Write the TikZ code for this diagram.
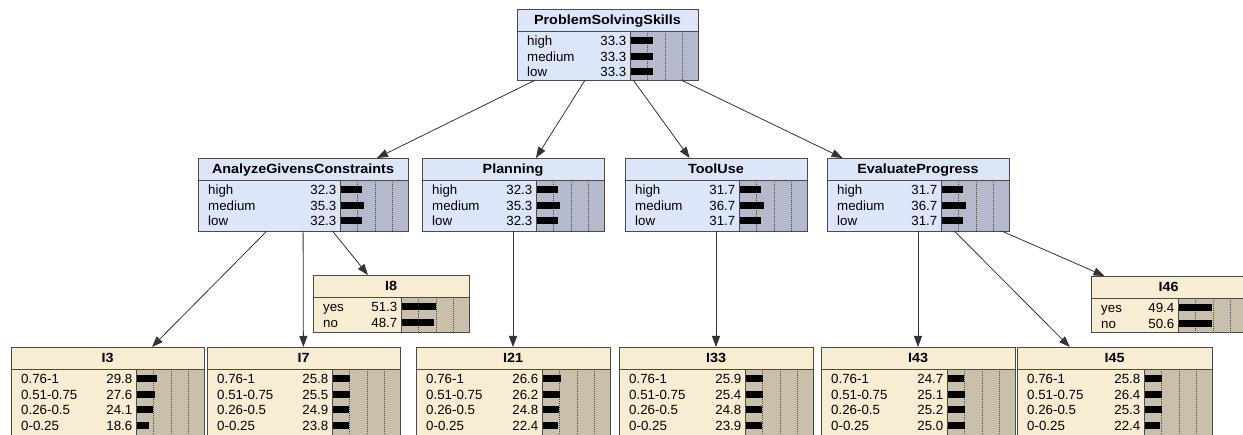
\documentclass[tikz,border=0pt]{standalone}
\usepackage{fontspec}
\setmainfont{Liberation Sans}
\newfontfamily\titlefont[FakeStretch=1.08]{Liberation Sans}
\usetikzlibrary{arrows.meta}

\definecolor{bluebox}{HTML}{DDE5F9}
\definecolor{bluebar}{HTML}{B4BACB}
\definecolor{creambox}{HTML}{F8EDD2}
\definecolor{creambar}{HTML}{C9C0AB}
\definecolor{framecol}{HTML}{4A4A4A}
\definecolor{linkcol}{HTML}{333333}

\tikzset{
  nodeframe/.style={draw=framecol, line width=0.9pt, rectangle, inner sep=0pt, outer sep=0pt, fill=none},
  titletext/.style={inner sep=0pt, font=\titlefont\bfseries\fontsize{13.3}{15}\selectfont},
  rowtext/.style={inner sep=0pt, font=\fontsize{13.3}{15}\selectfont},
  gridline/.style={draw=framecol, line width=0.6pt, dash pattern=on 1pt off 1pt},
  link/.style={draw=linkcol, line width=0.8pt, -{Triangle[length=11pt,width=8pt]}},
}

% belief-bar box: name, left, top, right, bottom, title, colour scheme, rows
\newcommand\beliefbox[8]{%
  \pgfmathsetmacro\nwW{#4-#2}%
  \pgfmathsetmacro\nwH{#5-#3}%
  \pgfmathsetmacro\nwT{#3+22.5}%
  \pgfmathsetmacro\nwB{#4-67.5}%
  \fill[#7box] (#2,#3) rectangle (#4,#5);
  \fill[#7bar] (\nwB,\nwT) rectangle (#4,#5);
  \foreach \d in {17,34.5,52}
    \draw[gridline] (\nwB+\d,\nwT) -- (\nwB+\d,#5);
  \draw[framecol, line width=0.8pt] (\nwB,\nwT) -- (\nwB,#5);
  \draw[framecol, line width=0.8pt] (#2,\nwT) -- (#4,\nwT);
  \node[nodeframe, anchor=north west, minimum width=\nwW pt, minimum height=\nwH pt] (#1) at (#2,#3) {};
  \node[titletext, anchor=base] (#1-title) at ({(#2+#4)/2},#3+16) {#6};
  \foreach \lab/\val [count=\i from 0] in {#8} {
    \pgfmathsetmacro\nwY{\nwT+9.5+15.5*\i}
    \node[rowtext, anchor=base west] (#1-lab-\i) at (#2+10,\nwY+4.6) {\lab};
    \node[rowtext, anchor=base east] (#1-val-\i) at (\nwB-4,\nwY+4.6) {\val};
    \fill[black] (\nwB+0.5,\nwY-3.5) rectangle ++(0.66*\val,7);
  }
}

\begin{document}
\begin{tikzpicture}[x=1pt,y=-1pt]
\useasboundingbox (0,0) rectangle (1243,435);
\clip (0,0) rectangle (1243,435);

% root
\beliefbox{pss}{517}{9}{698}{80}{ProblemSolvingSkills}{blue}{high/33.3,medium/33.3,low/33.3}

% skill nodes
\beliefbox{agc}{198}{158}{408}{231}{AnalyzeGivensConstraints}{blue}{high/32.3,medium/35.3,low/32.3}
\beliefbox{plan}{422}{158}{604}{231}{Planning}{blue}{high/32.3,medium/35.3,low/32.3}
\beliefbox{tool}{625}{158}{807}{231}{ToolUse}{blue}{high/31.7,medium/36.7,low/31.7}
\beliefbox{eval}{827}{158}{1009}{231}{EvaluateProgress}{blue}{high/31.7,medium/36.7,low/31.7}

% binary items
\beliefbox{i8}{313}{275}{469}{332}{I8}{cream}{yes/51.3,no/48.7}
\beliefbox{i46}{1091}{276}{1246}{332}{I46}{cream}{yes/49.4,no/50.6}

% graded items
\beliefbox{i3}{11}{347}{204}{437}{I3}{cream}{0.76-1/29.8,0.51-0.75/27.6,0.26-0.5/24.1,0-0.25/18.6}
\beliefbox{i7}{207}{347}{400}{437}{I7}{cream}{0.76-1/25.8,0.51-0.75/25.5,0.26-0.5/24.9,0-0.25/23.8}
\beliefbox{i21}{416}{347}{610}{437}{I21}{cream}{0.76-1/26.6,0.51-0.75/26.2,0.26-0.5/24.8,0-0.25/22.4}
\beliefbox{i33}{619}{347}{813}{437}{I33}{cream}{0.76-1/25.9,0.51-0.75/25.4,0.26-0.5/24.8,0-0.25/23.9}
\beliefbox{i43}{821}{347}{1015}{437}{I43}{cream}{0.76-1/24.7,0.51-0.75/25.1,0.26-0.5/25.2,0-0.25/25.0}
\beliefbox{i45}{1017}{347}{1212}{437}{I45}{cream}{0.76-1/25.8,0.51-0.75/26.4,0.26-0.5/25.3,0-0.25/22.4}

% dependencies
\draw[link] (pss) -- (agc);
\draw[link] (pss) -- (plan);
\draw[link] (pss) -- (tool);
\draw[link] (pss) -- (eval);
\draw[link] (agc) -- (i3);
\draw[link] (agc) -- (i7);
\draw[link] (agc) -- (i8);
\draw[link] (plan) -- (i21);
\draw[link] (tool) -- (i33);
\draw[link] (eval) -- (i43);
\draw[link] (eval) -- (i45);
\draw[link] (eval) -- (i46);
\end{tikzpicture}
\end{document}
